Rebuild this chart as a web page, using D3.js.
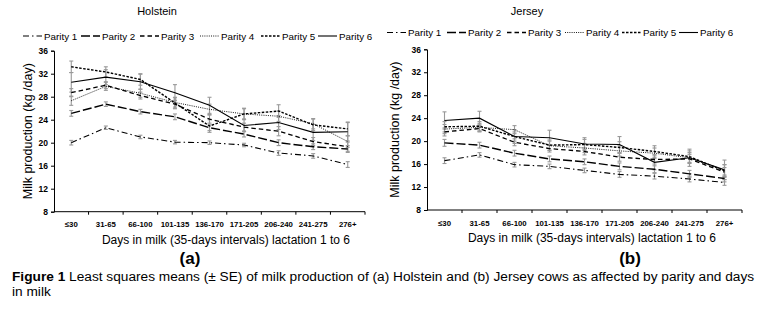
<!DOCTYPE html>
<html>
<head>
<meta charset="utf-8">
<script src="https://cdn.jsdelivr.net/npm/d3@7"></script>
<style>
  body { margin: 0; background: #fff; }
  svg { font-family: "Liberation Sans Narrow", "Arial Narrow", "Liberation Sans", Arial, sans-serif; }
</style>
</head>
<body>
<div id="chart"></div>
<script>
// categories (days in milk, 35-day intervals)
const categories = ["\u226430", "31-65", "66-100", "101-135", "136-170", "171-205", "206-240", "241-275", "276+"];
const parities = ["Parity 1", "Parity 2", "Parity 3", "Parity 4", "Parity 5", "Parity 6"];
const yTicks = [8, 12, 16, 20, 24, 28, 32, 36];

// Holstein means (kg/day)
const holsteinP1 = [20.0, 22.6, 21.0, 20.1, 20.0, 19.6, 18.2, 17.7, 16.2];
const holsteinP2 = [25.1, 26.7, 25.4, 24.5, 22.6, 21.5, 20.0, 19.3, 18.9];
const holsteinP3 = [28.7, 30.0, 28.2, 26.7, 24.1, 22.7, 22.0, 20.2, 19.3];
const holsteinP4 = [27.3, 29.8, 28.6, 27.0, 25.8, 25.0, 24.6, 23.3, 20.2];
const holsteinP5 = [33.2, 32.3, 31.0, 26.9, 22.9, 25.0, 25.5, 23.1, 22.4];
const holsteinP6 = [30.5, 31.4, 30.6, 28.7, 26.5, 23.0, 23.5, 21.8, 21.9];
// Holstein standard errors
const holsteinSE1 = [0.4, 0.3, 0.3, 0.3, 0.3, 0.3, 0.4, 0.4, 0.5];
const holsteinSE2 = [0.5, 0.4, 0.4, 0.5, 0.5, 0.5, 0.5, 0.5, 0.6];
const holsteinSE3 = [0.7, 0.6, 0.6, 0.7, 0.7, 0.7, 0.8, 0.7, 0.8];
const holsteinSE4 = [0.8, 0.7, 0.7, 0.8, 0.9, 0.9, 0.9, 0.9, 1.0];
const holsteinSE5 = [1.0, 0.9, 1.0, 1.0, 1.1, 1.0, 1.1, 1.0, 1.2];
const holsteinSE6 = [1.7, 1.3, 1.3, 1.4, 1.4, 1.1, 1.2, 1.4, 1.6];

// Jersey means (kg/day)
const jerseyP1 = [16.6, 17.6, 15.9, 15.6, 14.9, 14.2, 13.9, 13.4, 12.8];
const jerseyP2 = [19.7, 19.3, 17.9, 16.9, 16.4, 15.6, 15.1, 14.3, 13.5];
const jerseyP3 = [21.6, 22.2, 19.8, 18.7, 18.2, 17.2, 16.8, 16.9, 14.6];
const jerseyP4 = [22.1, 22.4, 22.0, 19.2, 18.8, 18.3, 17.9, 17.1, 14.9];
const jerseyP5 = [22.5, 22.6, 20.8, 19.3, 19.4, 18.9, 18.2, 17.3, 14.8];
const jerseyP6 = [23.6, 24.0, 20.8, 20.6, 19.5, 19.4, 16.3, 17.1, 15.0];
// Jersey standard errors
const jerseySE1 = [0.5, 0.4, 0.4, 0.4, 0.4, 0.5, 0.5, 0.5, 0.5];
const jerseySE2 = [0.6, 0.5, 0.5, 0.5, 0.5, 0.6, 0.6, 0.6, 0.6];
const jerseySE3 = [0.7, 0.6, 0.6, 0.6, 0.6, 0.7, 0.8, 0.8, 0.8];
const jerseySE4 = [0.8, 0.7, 0.7, 0.8, 0.8, 0.9, 0.9, 0.9, 1.0];
const jerseySE5 = [0.9, 0.8, 0.8, 0.9, 0.9, 1.0, 1.0, 1.0, 1.1];
const jerseySE6 = [1.5, 1.2, 1.2, 1.3, 1.1, 1.4, 1.3, 1.5, 1.7];

// line style per parity
const dashes = ["6,3,1.5,3", "9,3", "4.5,3", "1,1.2", "2.5,1.5", null];
const widths = [1.1, 1.4, 1.3, 0.9, 1.4, 1.1];

const svg = d3.select("#chart").append("svg")
    .attr("width", 764).attr("height", 310);

function drawPanel(cfg) {
    const x = d3.scaleBand().domain(categories).range([cfg.left, cfg.right]);
    const y = d3.scaleLinear().domain([8, 36]).range([cfg.bottom, cfg.top]);
    const g = svg.append("g");

    // title
    g.append("text").attr("x", cfg.titleX).attr("y", 15)
        .attr("text-anchor", "middle").style("font-size", "11px")
        .style("font-family", "'Liberation Sans', Arial, sans-serif")
        .text(cfg.title);

    // y axis
    const ya = g.append("g").attr("transform", `translate(${cfg.left},0)`)
        .call(d3.axisLeft(y).tickValues(yTicks).tickSize(3).tickPadding(3));
    ya.selectAll("text").style("font-size", "8.5px").style("font-weight", "bold");

    // x axis, ticks between categories
    const xa = g.append("g").attr("transform", `translate(0,${cfg.bottom})`)
        .call(d3.axisBottom(x).tickSize(0).tickPadding(10));
    xa.select(".domain").remove();
    xa.selectAll("text").style("font-size", "7.8px").style("font-weight", "bold");
    g.append("line").attr("x1", cfg.left).attr("x2", cfg.right)
        .attr("y1", cfg.bottom).attr("y2", cfg.bottom).attr("stroke", "#000");
    categories.forEach(c => {
        const xt = x(c) + x.bandwidth();
        g.append("line").attr("x1", xt).attr("x2", xt)
            .attr("y1", cfg.bottom).attr("y2", cfg.bottom + 3).attr("stroke", "#000");
    });

    // axis titles
    g.append("text")
        .attr("transform", `translate(${cfg.yTitleX},${(cfg.top + cfg.bottom) / 2}) rotate(-90)`)
        .attr("text-anchor", "middle").style("font-size", "12.5px")
        .text("Milk production (kg /day)");
    g.append("text").attr("x", cfg.xTitleX).attr("y", cfg.bottom + 32)
        .attr("text-anchor", "middle").style("font-size", "12px")
        .text("Days in milk (35-days intervals) lactation 1 to 6");

    const cx = c => x(c) + x.bandwidth() / 2;

    // error bars
    cfg.series.forEach((vals, s) => {
        vals.forEach((v, i) => {
            const se = cfg.errors[s][i];
            const xc = cx(categories[i]);
            const eb = g.append("g").attr("stroke", "#999").attr("stroke-width", 1.1);
            eb.append("line").attr("x1", xc).attr("x2", xc)
                .attr("y1", y(v - se)).attr("y2", y(v + se));
            [v - se, v + se].forEach(e => {
                eb.append("line").attr("x1", xc - 2).attr("x2", xc + 2)
                    .attr("y1", y(e)).attr("y2", y(e));
            });
        });
    });

    // lines
    const line = d3.line().x((d, i) => cx(categories[i])).y(d => y(d));
    cfg.series.forEach((vals, s) => {
        g.append("path").attr("d", line(vals))
            .attr("fill", "none").attr("stroke", "#000")
            .attr("stroke-width", widths[s])
            .attr("stroke-dasharray", dashes[s]);
    });

    // legend
    cfg.legendX.forEach((lx, s) => {
        g.append("line").attr("x1", lx).attr("x2", lx + 19)
            .attr("y1", cfg.legendY).attr("y2", cfg.legendY)
            .attr("stroke", "#000").attr("stroke-width", widths[s])
            .attr("stroke-dasharray", dashes[s]);
        g.append("text").attr("x", lx + 21).attr("y", cfg.legendY + 3.5)
            .style("font-size", "9.8px").text(parities[s]);
    });

    // panel letter
    g.append("text").attr("x", cfg.letterX).attr("y", 264)
        .attr("text-anchor", "middle").style("font-size", "17px").style("font-weight", "bold")
        .text(cfg.letter);
}

drawPanel({
    title: "Holstein", titleX: 157, letter: "(a)", letterX: 190,
    left: 54, right: 365, top: 50.7, bottom: 211.7,
    yTitleX: 32, xTitleX: 226,
    legendY: 36, legendX: [23, 81, 140, 200, 261, 318],
    series: [holsteinP1, holsteinP2, holsteinP3, holsteinP4, holsteinP5, holsteinP6],
    errors: [holsteinSE1, holsteinSE2, holsteinSE3, holsteinSE4, holsteinSE5, holsteinSE6]
});

drawPanel({
    title: "Jersey", titleX: 527, letter: "(b)", letterX: 630,
    left: 427, right: 742, top: 49.3, bottom: 210,
    yTitleX: 399, xTitleX: 592,
    legendY: 32.5, legendX: [387, 447, 507, 565, 622, 679],
    series: [jerseyP1, jerseyP2, jerseyP3, jerseyP4, jerseyP5, jerseyP6],
    errors: [jerseySE1, jerseySE2, jerseySE3, jerseySE4, jerseySE5, jerseySE6]
});

// caption
const cap = svg.append("text").attr("x", 12).attr("y", 281).style("font-size", "13.7px");
cap.append("tspan").style("font-weight", "bold").text("Figure 1");
cap.append("tspan").text(" Least squares means (\u00b1 SE) of milk production of (a) Holstein and (b) Jersey cows as affected by parity and days");
svg.append("text").attr("x", 12).attr("y", 296).style("font-size", "13.7px").text("in milk");
</script>
</body>
</html>
